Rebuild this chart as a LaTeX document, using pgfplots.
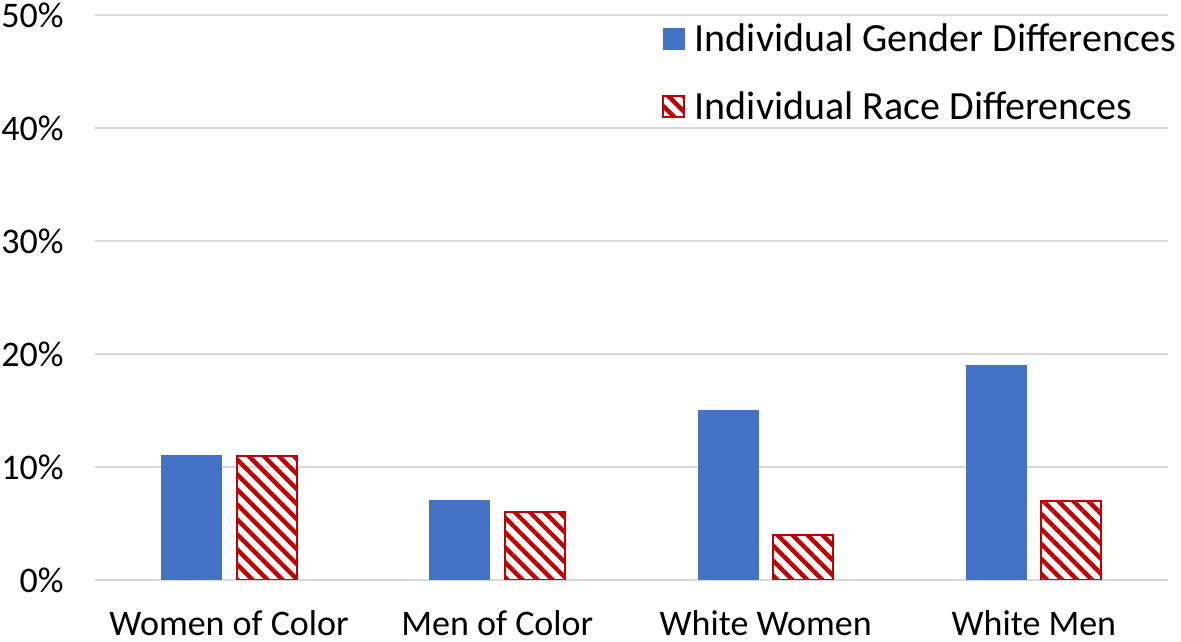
\documentclass[border=0pt]{standalone}
\usepackage{pgfplots}
\pgfplotsset{compat=1.18}
\usepackage{fontspec}
\setmainfont{Carlito}
\usetikzlibrary{patterns.meta}
\definecolor{cblue}{HTML}{4472C4}
\definecolor{cred}{HTML}{C00000}
\definecolor{cgrid}{HTML}{D9D9D9}
\begin{document}
\begin{tikzpicture}
\begin{axis}[
  name=ax,
  scale only axis,
  width=536.5pt, height=282.5pt,
  ymin=0, ymax=50, ytick={0,10,20,30,40,50},
  /pgf/number format/assume math mode=true,
  yticklabel={\pgfmathprintnumber{\tick}\%},
  xmin=-0.5, xmax=3.5, xtick={0,1,2,3},
  xticklabels={Women of Color, Men of Color, White Women, White Men},
  ymajorgrids, grid style={draw=cgrid, line width=1pt},
  axis line style={draw=none}, tick style={draw=none},
  tick label style={font=\fontsize{18pt}{21pt}\selectfont, text=black},
  yticklabel style={anchor=east, inner sep=0pt, xshift=-15.5pt},
  xticklabel style={anchor=base, inner sep=0pt, yshift=-23.5pt},
  ybar, bar width=30pt,
  legend style={at={(0.5284,1.009)}, anchor=north west, draw=none, fill=none,
    inner sep=0pt, font=\fontsize{20pt}{24pt}\selectfont, row sep=5pt,
    legend cell align=left,
    nodes={inner xsep=2.75pt, inner ysep=6.7pt},
    /tikz/every odd column/.append style={column sep=2pt}},
  legend image code/.code={\draw[#1] (0pt,-5.25pt) rectangle (10.5pt,5.25pt);},
]
\addplot[bar shift=-18.75pt, fill=cblue, draw=cblue] coordinates {(0,11) (1,7) (2,15) (3,19)};
\addlegendentry{Individual Gender Differences}
\addplot[bar shift=18.75pt, draw=cred, line width=1pt,
  pattern={Lines[angle=-45,distance=5.3pt,line width=2.2pt]}, pattern color=cred]
  coordinates {(0,11) (1,6) (2,4) (3,7)};
\addlegendentry{Individual Race Differences}
\end{axis}
\pgfresetboundingbox
\useasboundingbox ([xshift=-47.5pt,yshift=-31pt]ax.south west) rectangle ([xshift=6.5pt,yshift=7.5pt]ax.north east);
\end{tikzpicture}
\end{document}
